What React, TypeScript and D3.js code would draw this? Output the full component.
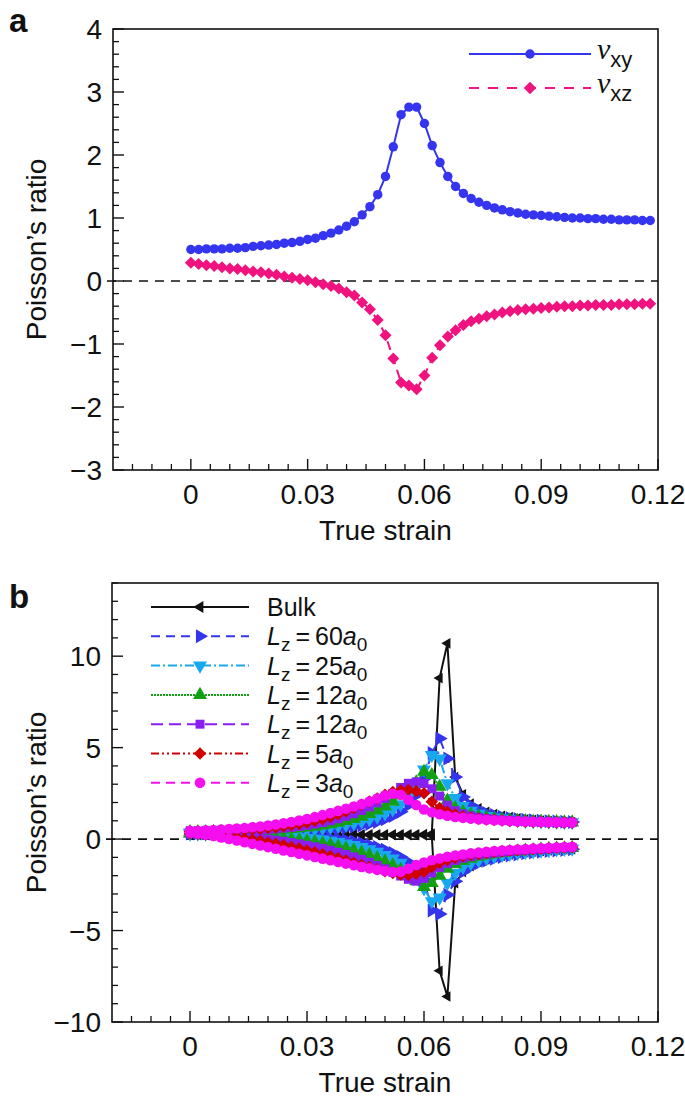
import React from "react";
import * as d3 from "d3";

// ---------- Panel a data ----------
const strainA = [0, 0.002, 0.004, 0.006, 0.008, 0.01, 0.012, 0.014, 0.016, 0.018, 0.02, 0.022, 0.024, 0.026, 0.028, 0.03, 0.032, 0.034, 0.036, 0.038, 0.04, 0.042, 0.044, 0.046, 0.048, 0.05, 0.052, 0.054, 0.056, 0.058, 0.06, 0.062, 0.064, 0.066, 0.068, 0.07, 0.072, 0.074, 0.076, 0.078, 0.08, 0.082, 0.084, 0.086, 0.088, 0.09, 0.092, 0.094, 0.096, 0.098, 0.1, 0.102, 0.104, 0.106, 0.108, 0.11, 0.112, 0.114, 0.116, 0.118];
const nuXY = [0.50,0.50,0.51,0.51,0.51,0.52,0.52,0.53,0.55,0.56, 0.57,0.58,0.60,0.61,0.63,0.66,0.68,0.72,0.76,0.81, 0.87,0.94,1.05,1.18,1.37,1.66,2.13,2.64,2.76,2.76, 2.50,2.15,1.88,1.66,1.50,1.39,1.31,1.25,1.20,1.16, 1.13,1.10,1.08,1.06,1.05,1.04,1.03,1.02,1.01,1.00, 1.00,0.99,0.99,0.98,0.98,0.97,0.97,0.97,0.96,0.96];
const nuXZ = [0.29,0.27,0.25,0.24,0.22,0.20,0.19,0.17,0.15,0.14, 0.12,0.10,0.07,0.05,0.03,0.01,-0.02,-0.05,-0.08,-0.12, -0.18,-0.23,-0.34,-0.45,-0.62,-0.86,-1.23,-1.61,-1.66,-1.72, -1.50,-1.22,-1.02,-0.88,-0.78,-0.70,-0.64,-0.60,-0.56,-0.53, -0.50,-0.48,-0.46,-0.45,-0.44,-0.43,-0.42,-0.41,-0.40,-0.40, -0.39,-0.39,-0.38,-0.38,-0.38,-0.37,-0.37,-0.37,-0.36,-0.36];

// ---------- Panel b data ----------
const strainB = [0, 0.002, 0.004, 0.006, 0.008, 0.01, 0.012, 0.014, 0.016, 0.018, 0.02, 0.022, 0.024, 0.026, 0.028, 0.03, 0.032, 0.034, 0.036, 0.038, 0.04, 0.042, 0.044, 0.046, 0.048, 0.05, 0.052, 0.054, 0.056, 0.058, 0.06, 0.062, 0.064, 0.066, 0.068, 0.07, 0.072, 0.074, 0.076, 0.078, 0.08, 0.082, 0.084, 0.086, 0.088, 0.09, 0.092, 0.094, 0.096, 0.098];
const bulkXY = [0.30,0.30,0.30,0.30,0.29,0.29,0.29,0.29,0.29,0.28, 0.28,0.28,0.28,0.28,0.28,0.27,0.27,0.27,0.27,0.27, 0.27,0.27,0.27,0.27,0.27,0.27,0.27,0.27,0.27,0.27, 0.28,0.30,8.80,10.70,3.40,2.45,1.95,1.68,1.50,1.37, 1.28,1.20,1.14,1.09,1.05,1.02,0.99,0.97,0.95,0.94];
const bulkXZ = [0.22,0.22,0.22,0.22,0.22,0.22,0.22,0.21,0.21,0.21, 0.21,0.21,0.21,0.21,0.21,0.21,0.21,0.21,0.21,0.21, 0.21,0.21,0.21,0.21,0.21,0.21,0.21,0.21,0.21,0.21, 0.20,0.18,-7.20,-8.60,-2.42,-1.80,-1.48,-1.27,-1.12,-1.00, -0.91,-0.84,-0.78,-0.73,-0.69,-0.65,-0.62,-0.59,-0.57,-0.55];
const lz60XY = [0.34,0.34,0.34,0.34,0.35,0.35,0.35,0.36,0.36,0.37, 0.37,0.38,0.39,0.40,0.42,0.44,0.46,0.49,0.52,0.56, 0.61,0.67,0.74,0.83,0.94,1.08,1.26,1.50,1.85,2.40, 3.30,4.70,5.50,4.40,3.40,2.30,1.85,1.60,1.43,1.31, 1.22,1.15,1.10,1.06,1.03,1.00,0.98,0.96,0.95,0.94];
const lz60XZ = [0.30,0.30,0.30,0.30,0.30,0.29,0.29,0.28,0.28,0.27, 0.26,0.25,0.23,0.21,0.19,0.17,0.14,0.10,0.06,0.01, -0.05,-0.12,-0.21,-0.31,-0.43,-0.58,-0.76,-0.98,-1.25,-1.60, -2.20,-3.90,-4.10,-3.05,-2.30,-1.80,-1.52,-1.32,-1.18,-1.07, -0.98,-0.90,-0.84,-0.78,-0.73,-0.69,-0.65,-0.62,-0.59,-0.56];
const lz25XY = [0.36,0.36,0.36,0.36,0.37,0.37,0.38,0.38,0.39,0.40, 0.41,0.43,0.45,0.47,0.50,0.53,0.57,0.61,0.66,0.72, 0.79,0.87,0.97,1.09,1.23,1.40,1.62,1.90,2.30,2.90, 3.80,4.60,4.40,3.05,2.25,1.80,1.55,1.38,1.26,1.18, 1.12,1.07,1.03,1.00,0.98,0.96,0.95,0.94,0.93,0.92];
const lz25XZ = [0.30,0.30,0.30,0.29,0.29,0.28,0.27,0.26,0.25,0.23, 0.21,0.19,0.16,0.13,0.10,0.06,0.02,-0.03,-0.09,-0.16, -0.24,-0.33,-0.44,-0.56,-0.70,-0.87,-1.06,-1.30,-1.60,-2.05, -2.70,-3.40,-3.20,-2.40,-1.85,-1.52,-1.31,-1.16,-1.04,-0.95, -0.87,-0.81,-0.75,-0.71,-0.67,-0.63,-0.60,-0.57,-0.54,-0.52];
const lz12gXY = [0.38,0.38,0.38,0.39,0.39,0.40,0.41,0.42,0.43,0.45, 0.47,0.49,0.52,0.55,0.59,0.63,0.68,0.74,0.81,0.89, 0.99,1.10,1.23,1.38,1.56,1.78,2.05,2.38,2.75,3.10, 3.68,3.50,2.86,2.10,1.70,1.48,1.34,1.24,1.16,1.10, 1.06,1.02,1.00,0.98,0.96,0.95,0.94,0.93,0.92,0.91];
const lz12gXZ = [0.30,0.30,0.29,0.28,0.27,0.26,0.24,0.22,0.19,0.16, 0.13,0.09,0.05,0.00,-0.05,-0.11,-0.17,-0.24,-0.32,-0.41, -0.51,-0.62,-0.74,-0.88,-1.04,-1.22,-1.43,-1.68,-1.98,-2.30, -2.62,-2.40,-2.00,-1.62,-1.38,-1.20,-1.07,-0.97,-0.89,-0.82, -0.76,-0.71,-0.67,-0.63,-0.60,-0.57,-0.54,-0.52,-0.50,-0.48];
const lz12pXY = [0.40,0.40,0.41,0.41,0.42,0.43,0.44,0.46,0.48,0.50, 0.53,0.56,0.60,0.64,0.69,0.75,0.82,0.90,1.00,1.11, 1.24,1.39,1.56,1.76,1.98,2.22,2.50,2.82,3.05,3.13, 3.04,2.75,2.35,1.85,1.55,1.38,1.27,1.19,1.13,1.08, 1.04,1.01,0.99,0.97,0.95,0.94,0.93,0.92,0.91,0.90];
const lz12pXZ = [0.30,0.29,0.28,0.26,0.24,0.21,0.18,0.14,0.10,0.05, 0.00,-0.06,-0.12,-0.19,-0.26,-0.34,-0.42,-0.51,-0.61,-0.72, -0.84,-0.97,-1.11,-1.27,-1.44,-1.62,-1.82,-2.02,-2.20,-2.30, -2.15,-1.85,-1.55,-1.33,-1.17,-1.05,-0.96,-0.88,-0.82,-0.77, -0.72,-0.68,-0.64,-0.61,-0.58,-0.55,-0.53,-0.50,-0.48,-0.46];
const lz5XY = [0.42,0.42,0.43,0.44,0.45,0.47,0.49,0.51,0.54,0.57, 0.61,0.65,0.70,0.76,0.83,0.91,1.00,1.10,1.22,1.36, 1.52,1.70,1.88,2.05,2.22,2.42,2.58,2.66,2.68,2.62, 2.50,2.04,1.70,1.48,1.34,1.24,1.17,1.11,1.07,1.04, 1.01,0.99,0.97,0.95,0.94,0.93,0.92,0.91,0.90,0.89];
const lz5XZ = [0.30,0.28,0.25,0.22,0.18,0.13,0.08,0.02,-0.04,-0.11, -0.18,-0.26,-0.34,-0.43,-0.52,-0.62,-0.72,-0.83,-0.94,-1.05, -1.17,-1.29,-1.41,-1.53,-1.65,-1.76,-1.86,-1.94,-1.97,-1.90, -1.78,-1.52,-1.30,-1.14,-1.02,-0.93,-0.86,-0.80,-0.75,-0.71, -0.67,-0.64,-0.61,-0.58,-0.55,-0.53,-0.50,-0.48,-0.46,-0.44];
const lz3XY = [0.45,0.46,0.48,0.50,0.52,0.55,0.58,0.61,0.65,0.69, 0.74,0.80,0.86,0.93,1.01,1.10,1.20,1.31,1.42,1.54, 1.66,1.78,1.91,2.05,2.22,2.38,2.48,2.42,2.15,1.86, 1.62,1.47,1.36,1.28,1.21,1.16,1.12,1.08,1.05,1.03, 1.01,0.99,0.97,0.96,0.95,0.94,0.93,0.92,0.91,0.90];
const lz3XZ = [0.35,0.30,0.24,0.17,0.09,0.01,-0.08,-0.17,-0.26,-0.35, -0.44,-0.53,-0.62,-0.71,-0.80,-0.89,-0.98,-1.07,-1.16,-1.25, -1.34,-1.43,-1.52,-1.60,-1.68,-1.75,-1.80,-1.78,-1.62,-1.42, -1.28,-1.16,-1.06,-0.97,-0.90,-0.84,-0.78,-0.74,-0.70,-0.66, -0.63,-0.60,-0.57,-0.55,-0.52,-0.50,-0.48,-0.46,-0.44,-0.42];

// ---------- ticks / labels ----------
const xTicks = [0, 0.03, 0.06, 0.09, 0.12];
const xTickLabels = ["0", "0.03", "0.06", "0.09", "0.12"];
const yTicksA = [4, 3, 2, 1, 0, -1, -2, -3];
const yTickLabelsA = ["4", "3", "2", "1", "0", "\u22121", "\u22122", "\u22123"];
const yTicksB = [10, 5, 0, -5, -10];
const yTickLabelsB = ["10", "5", "0", "\u22125", "\u221210"];
const legendB = ["Bulk", "60", "25", "12", "12", "5", "3"];

const FONT = "'Liberation Sans', Arial, Helvetica, sans-serif";
const TICK_FS = 28;
const TITLE_FS = 28;

type Style = { color: string; dash: string; marker: string; size: number; width: number };

const stylesB: Style[] = [
  { color: "#111111", dash: "", marker: "left", size: 48, width: 2 },
  { color: "#3434EC", dash: "9,6", marker: "right", size: 85, width: 2 },
  { color: "#18A8F0", dash: "9,3,2,3", marker: "down", size: 85, width: 2 },
  { color: "#14A014", dash: "2,1", marker: "up", size: 85, width: 2 },
  { color: "#8A1EF0", dash: "12,6", marker: "square", size: 80, width: 2 },
  { color: "#D00000", dash: "8,3,2,3,2,3", marker: "diamond", size: 78, width: 2 },
  { color: "#F50EF0", dash: "9,6", marker: "circle", size: 88, width: 2 },
];
const seriesB = [
  [bulkXY, bulkXZ],
  [lz60XY, lz60XZ],
  [lz25XY, lz25XZ],
  [lz12gXY, lz12gXZ],
  [lz12pXY, lz12pXZ],
  [lz5XY, lz5XZ],
  [lz3XY, lz3XZ],
];

function markerPath(kind: string, size: number): [string, number] {
  if (kind === "circle") return [d3.symbol(d3.symbolCircle, size)() as string, 0];
  if (kind === "diamond") return [d3.symbol(d3.symbolSquare, size)() as string, 45];
  if (kind === "square") return [d3.symbol(d3.symbolSquare, size)() as string, 0];
  const rot: Record<string, number> = { up: 0, down: 180, left: -90, right: 90 };
  return [d3.symbol(d3.symbolTriangle, size)() as string, rot[kind] ?? 0];
}

function Marker({ kind, x, y, size, color }: { kind: string; x: number; y: number; size: number; color: string }) {
  const [d, r] = markerPath(kind, size);
  return <path d={d} transform={`translate(${x},${y}) rotate(${r})`} fill={color} />;
}

function Axes({ x, y, yTicks, yLabels, minorY, minorX, title, letterY }: any) {
  const [x0, x1] = x.range();
  const [y0, y1] = y.range(); // y0 bottom, y1 top
  return (
    <g>
      <line x1={x0 - 6} x2={x1} y1={y(0)} y2={y(0)} stroke="#111" strokeWidth={1.6} strokeDasharray="9,7" />
      {minorY.map((v: number, i: number) => (
        <line key={"my" + i} x1={x0} x2={x0 + 6} y1={y(v)} y2={y(v)} stroke="#111" strokeWidth={1.3} />
      ))}
      {minorX.map((v: number, i: number) => (
        <line key={"mx" + i} x1={x(v)} x2={x(v)} y1={y0} y2={y0 - 6} stroke="#111" strokeWidth={1.3} />
      ))}
      {yTicks.map((v: number, i: number) => (
        <g key={"y" + i}>
          <line x1={x0} x2={x0 + 11} y1={y(v)} y2={y(v)} stroke="#111" strokeWidth={1.4} />
          <text x={x0 - 11} y={y(v)} dy="0.36em" textAnchor="end" fontSize={TICK_FS} fontFamily={FONT} fill="#111">
            {yLabels[i]}
          </text>
        </g>
      ))}
      {xTicks.map((v, i) => (
        <g key={"x" + i}>
          <line x1={x(v)} x2={x(v)} y1={y0} y2={y0 - 11} stroke="#111" strokeWidth={1.4} />
          <text x={x(v)} y={y0 + 34} textAnchor="middle" fontSize={TICK_FS} fontFamily={FONT} fill="#111">
            {xTickLabels[i]}
          </text>
        </g>
      ))}
      <rect x={x0} y={y1} width={x1 - x0} height={y0 - y1} fill="none" stroke="#111" strokeWidth={1.6} />
      <text x={(x0 + x1) / 2} y={y0 + 70} textAnchor="middle" fontSize={TITLE_FS} fontFamily={FONT} fill="#111">
        True strain
      </text>
      <text
        transform={`translate(46,${(y0 + y1) / 2}) rotate(-90)`}
        textAnchor="middle"
        fontSize={TITLE_FS}
        fontFamily={FONT}
        fill="#111"
      >
        Poisson’s ratio
      </text>
      <text x={9} y={letterY} fontSize={33} fontWeight="bold" fontFamily={FONT} fill="#111">
        {title}
      </text>
    </g>
  );
}

export default function App() {
  const xA = d3.scaleLinear().domain([-0.02, 0.12]).range([113, 658]);
  const yA = d3.scaleLinear().domain([-3, 4]).range([470, 29]);
  const xB = d3.scaleLinear().domain([-0.02, 0.12]).range([112, 658]);
  const yB = d3.scaleLinear().domain([-10, 14]).range([1022, 583]);

  const minorX = d3.range(-0.015, 0.12, 0.005).filter((v) => Math.abs(v / 0.03 - Math.round(v / 0.03)) > 1e-6);
  const minorYA = d3.range(-3, 4, 0.2).filter((v) => Math.abs(v - Math.round(v)) > 1e-6);
  const minorYB = d3.range(-9, 14.01, 1).filter((v) => v % 5 !== 0);

  const lineA = d3.line<number>().x((_, i) => xA(strainA[i])).y((d) => yA(d));
  const lineB = d3.line<number>().x((_, i) => xB(strainB[i])).y((d) => yB(d));

  const blueA = "#3535F0";
  const pinkA = "#F0127E";
  const serif = "'Liberation Serif', 'DejaVu Serif', serif";

  return (
    <svg width={685} height={1103} style={{ position: "absolute", left: 0, top: 0, background: "#fff" }}>
      <rect x={0} y={0} width={685} height={1103} fill="#fff" />
      {/* ---------- Panel a ---------- */}
      <Axes x={xA} y={yA} yTicks={yTicksA} yLabels={yTickLabelsA} minorY={minorYA} minorX={minorX} title="a" letterY={32} />
      <path d={lineA(nuXZ) as string} fill="none" stroke={pinkA} strokeWidth={2} strokeDasharray="9,6" />
      {nuXZ.map((v, i) => (
        <Marker key={"pz" + i} kind="diamond" x={xA(strainA[i])} y={yA(v)} size={72} color={pinkA} />
      ))}
      <path d={lineA(nuXY) as string} fill="none" stroke={blueA} strokeWidth={2} />
      {nuXY.map((v, i) => (
        <Marker key={"py" + i} kind="circle" x={xA(strainA[i])} y={yA(v)} size={70} color={blueA} />
      ))}
      {/* legend a */}
      <g>
        <line x1={469} x2={591} y1={54} y2={54} stroke={blueA} strokeWidth={2} />
        <Marker kind="circle" x={530} y={54} size={70} color={blueA} />
        <text x={597} y={59} fontFamily={FONT} fill="#111">
          <tspan fontFamily={serif} fontStyle="italic" fontSize={30}>ν</tspan>
          <tspan fontSize={22} dy={8}>xy</tspan>
        </text>
        <line x1={469} x2={591} y1={88} y2={88} stroke={pinkA} strokeWidth={2} strokeDasharray="10,9" />
        <Marker kind="diamond" x={530} y={88} size={78} color={pinkA} />
        <text x={597} y={93} fontFamily={FONT} fill="#111">
          <tspan fontFamily={serif} fontStyle="italic" fontSize={30}>ν</tspan>
          <tspan fontSize={22} dy={8}>xz</tspan>
        </text>
      </g>

      {/* ---------- Panel b ---------- */}
      <Axes x={xB} y={yB} yTicks={yTicksB} yLabels={yTickLabelsB} minorY={minorYB} minorX={minorX} title="b" letterY={608} />
      {seriesB.map((pair, s) => {
        const st = stylesB[s];
        return (
          <g key={"s" + s}>
            {pair.map((arr, k) => (
              <path key={"l" + k} d={lineB(arr) as string} fill="none" stroke={st.color} strokeWidth={st.width} strokeDasharray={st.dash || undefined} />
            ))}
            {pair.map((arr, k) =>
              arr.map((v, i) => (
                <Marker key={"m" + k + "-" + i} kind={st.marker} x={xB(strainB[i])} y={yB(v)} size={st.size} color={st.color} />
              ))
            )}
          </g>
        );
      })}
      {/* legend b */}
      {legendB.map((lab, i) => {
        const st = stylesB[i];
        const yy = 607 + i * 29.3;
        return (
          <g key={"lg" + i}>
            <line x1={151} x2={249} y1={yy} y2={yy} stroke={st.color} strokeWidth={2} strokeDasharray={st.dash || undefined} />
            <Marker kind={st.marker} x={200} y={yy} size={i === 0 ? 60 : st.size} color={st.color} />
            {i === 0 ? (
              <text x={267} y={yy + 9} fontSize={25} fontFamily={FONT} fill="#111">Bulk</text>
            ) : (
              <text x={267} y={yy + 9} fontSize={25} fontFamily={FONT} fill="#111">
                <tspan fontStyle="italic">L</tspan>
                <tspan fontSize={19} dy={6}>z</tspan>
                <tspan dy={-6}>{"\u2009=\u2009" + lab}</tspan>
                <tspan fontStyle="italic">a</tspan>
                <tspan fontSize={19} dy={6}>0</tspan>
              </text>
            )}
          </g>
        );
      })}
    </svg>
  );
}
